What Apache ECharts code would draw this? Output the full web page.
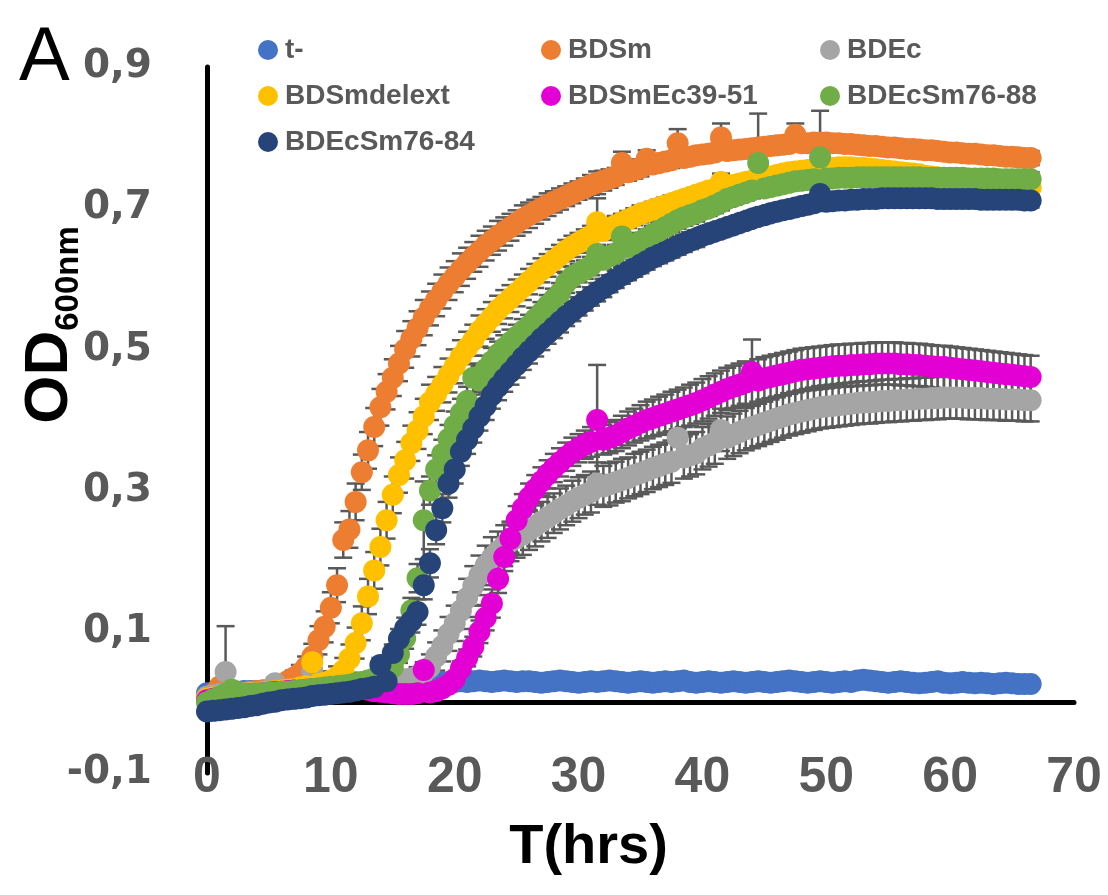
<!DOCTYPE html>
<html>
<head>
<meta charset="utf-8">
<script src="https://cdn.jsdelivr.net/npm/echarts@6/dist/echarts.min.js"></script>
<style>html,body{margin:0;padding:0;background:#fff}#c{width:1108px;height:895px}</style>
</head>
<body>
<div id="c"></div>
<script>
// sampling times (h)
const times = [
0,0.5,1,1.5,2,2.5,3,3.5,4,4.5,
5,5.5,6,6.5,7,7.5,8,8.5,9,9.5,
10,10.5,11,11.5,12,12.5,13,13.5,14,14.5,
15,15.5,16,16.5,17,17.5,18,18.5,19,19.5,
20,20.5,21,21.5,22,22.5,23,23.5,24,24.5,
25,25.5,26,26.5,27,27.5,28,28.5,29,29.5,
30,30.5,31,31.5,32,32.5,33,33.5,34,34.5,
35,35.5,36,36.5,37,37.5,38,38.5,39,39.5,
40,40.5,41,41.5,42,42.5,43,43.5,44,44.5,
45,45.5,46,46.5,47,47.5,48,48.5,49,49.5,
50,50.5,51,51.5,52,52.5,53,53.5,54,54.5,
55,55.5,56,56.5,57,57.5,58,58.5,59,59.5,
60,60.5,61,61.5,62,62.5,63,63.5,64,64.5,
65,65.5,66,66.5];

const seriesNames = ['t-','BDSm','BDEc','BDSmdelext','BDSmEc39-51','BDEcSm76-88','BDEcSm76-84'];
const seriesColors = ['#4472C4','#ED7D31','#A5A5A5','#FFC000','#E300D5','#70AD47','#264478'];
const yTickLabels = ['-0,1','0,1','0,3','0,5','0,7','0,9'];

const od_tminus = [
0.013,0.014,0.014,0.015,0.015,0.015,0.016,0.016,0.016,0.017,
0.017,0.017,0.018,0.018,0.018,0.019,0.019,0.019,0.020,0.020,
0.020,0.021,0.021,0.021,0.022,0.022,0.022,0.023,0.023,0.024,
0.024,0.025,0.025,0.026,0.026,0.027,0.027,0.028,0.028,0.029,
0.029,0.030,0.029,0.030,0.031,0.030,0.029,0.030,0.031,0.030,
0.029,0.030,0.030,0.029,0.028,0.029,0.030,0.031,0.030,0.029,
0.028,0.029,0.030,0.029,0.030,0.031,0.030,0.029,0.028,0.029,
0.030,0.029,0.028,0.029,0.030,0.029,0.030,0.031,0.029,0.028,
0.029,0.030,0.029,0.028,0.029,0.030,0.029,0.028,0.029,0.030,
0.029,0.028,0.029,0.030,0.031,0.030,0.029,0.028,0.029,0.030,
0.029,0.028,0.029,0.030,0.029,0.031,0.032,0.031,0.030,0.029,
0.028,0.029,0.030,0.029,0.028,0.027,0.028,0.029,0.030,0.028,
0.027,0.028,0.029,0.028,0.027,0.028,0.027,0.026,0.027,0.028,
0.027,0.026,0.026,0.026];
const err_tminus = [
0.005,0.005,0.005,0.005,0.005,0.005,0.005,0.005,0.005,0.005,
0.005,0.005,0.005,0.005,0.005,0.005,0.005,0.005,0.005,0.005,
0.005,0.005,0.005,0.005,0.005,0.005,0.005,0.005,0.005,0.005,
0.005,0.005,0.005,0.005,0.005,0.005,0.005,0.005,0.005,0.005,
0.006,0.006,0.006,0.006,0.006,0.006,0.006,0.006,0.006,0.006,
0.006,0.006,0.006,0.006,0.006,0.006,0.006,0.006,0.006,0.006,
0.006,0.006,0.006,0.006,0.006,0.006,0.006,0.006,0.006,0.006,
0.006,0.006,0.006,0.006,0.006,0.006,0.006,0.006,0.006,0.006,
0.006,0.006,0.006,0.006,0.006,0.006,0.006,0.006,0.006,0.006,
0.006,0.006,0.006,0.006,0.006,0.006,0.006,0.006,0.006,0.006,
0.006,0.006,0.006,0.006,0.006,0.006,0.006,0.006,0.006,0.006,
0.006,0.006,0.006,0.006,0.006,0.006,0.006,0.006,0.006,0.006,
0.006,0.006,0.006,0.006,0.006,0.006,0.006,0.006,0.006,0.006,
0.006,0.006,0.006,0.006];

const od_bdsm = [
0.008,0.012,0.022,0.013,0.013,0.014,0.014,0.015,0.016,0.017,
0.018,0.021,0.025,0.030,0.035,0.041,0.050,0.065,0.088,0.107,
0.134,0.166,0.230,0.245,0.284,0.326,0.357,0.390,0.418,0.440,
0.460,0.480,0.500,0.515,0.530,0.545,0.558,0.570,0.582,0.593,
0.603,0.613,0.622,0.631,0.639,0.647,0.654,0.661,0.667,0.673,
0.679,0.685,0.690,0.695,0.700,0.705,0.709,0.713,0.717,0.721,
0.725,0.729,0.733,0.736,0.739,0.742,0.745,0.764,0.751,0.754,
0.757,0.770,0.762,0.764,0.766,0.768,0.792,0.771,0.773,0.775,
0.776,0.777,0.779,0.800,0.781,0.782,0.783,0.784,0.785,0.786,
0.787,0.788,0.789,0.790,0.791,0.804,0.792,0.792,0.793,0.793,
0.793,0.792,0.792,0.791,0.791,0.790,0.789,0.788,0.788,0.787,
0.786,0.786,0.785,0.784,0.784,0.783,0.782,0.782,0.781,0.780,
0.779,0.779,0.778,0.777,0.777,0.776,0.775,0.775,0.774,0.773,
0.773,0.772,0.771,0.771];
const err_bdsm = [
0.005,0.005,0.006,0.005,0.005,0.005,0.005,0.005,0.005,0.005,
0.005,0.006,0.006,0.008,0.010,0.012,0.015,0.018,0.020,0.022,
0.022,0.024,0.025,0.026,0.026,0.025,0.026,0.027,0.026,0.025,
0.026,0.025,0.026,0.025,0.024,0.025,0.024,0.023,0.024,0.023,
0.022,0.023,0.022,0.021,0.022,0.021,0.020,0.021,0.020,0.019,
0.018,0.019,0.018,0.017,0.016,0.016,0.015,0.015,0.014,0.014,
0.013,0.013,0.014,0.016,0.014,0.013,0.012,0.016,0.012,0.012,
0.012,0.012,0.011,0.011,0.011,0.011,0.020,0.011,0.011,0.010,
0.010,0.010,0.010,0.020,0.010,0.010,0.010,0.010,0.010,0.048,
0.010,0.010,0.010,0.010,0.010,0.016,0.010,0.010,0.010,0.045,
0.010,0.010,0.010,0.010,0.010,0.010,0.010,0.010,0.010,0.010,
0.010,0.010,0.010,0.010,0.010,0.010,0.010,0.010,0.010,0.010,
0.010,0.010,0.010,0.010,0.010,0.010,0.010,0.010,0.010,0.010,
0.010,0.010,0.010,0.010];

const od_bdec = [
0.008,0.010,0.012,0.043,0.012,0.013,0.013,0.014,0.014,0.015,
0.015,0.027,0.016,0.017,0.017,0.018,0.019,0.045,0.020,0.021,
0.021,0.022,0.023,0.023,0.024,0.025,0.025,0.026,0.027,0.028,
0.029,0.030,0.032,0.034,0.037,0.042,0.050,0.065,0.080,0.097,
0.112,0.130,0.148,0.165,0.180,0.194,0.205,0.214,0.222,0.228,
0.233,0.238,0.244,0.250,0.256,0.262,0.268,0.274,0.279,0.285,
0.290,0.294,0.298,0.310,0.306,0.309,0.312,0.315,0.318,0.322,
0.325,0.328,0.332,0.335,0.338,0.341,0.375,0.347,0.350,0.353,
0.360,0.364,0.368,0.386,0.375,0.379,0.383,0.387,0.390,0.393,
0.396,0.399,0.402,0.405,0.408,0.410,0.412,0.414,0.416,0.418,
0.419,0.420,0.421,0.422,0.423,0.424,0.425,0.425,0.426,0.427,
0.427,0.428,0.428,0.429,0.429,0.430,0.430,0.431,0.431,0.432,
0.432,0.432,0.432,0.431,0.431,0.431,0.430,0.430,0.430,0.429,
0.429,0.429,0.428,0.428];
const err_bdec = [
0.005,0.005,0.006,0.065,0.006,0.006,0.006,0.006,0.006,0.006,
0.006,0.008,0.006,0.006,0.006,0.006,0.007,0.010,0.007,0.007,
0.007,0.007,0.008,0.008,0.008,0.008,0.009,0.009,0.009,0.010,
0.010,0.010,0.011,0.012,0.013,0.015,0.018,0.020,0.022,0.024,
0.025,0.026,0.027,0.028,0.028,0.028,0.029,0.028,0.029,0.028,
0.028,0.029,0.028,0.029,0.028,0.029,0.028,0.029,0.028,0.029,
0.029,0.028,0.029,0.030,0.029,0.030,0.029,0.030,0.029,0.030,
0.030,0.030,0.030,0.030,0.030,0.030,0.030,0.030,0.030,0.030,
0.030,0.030,0.030,0.030,0.030,0.030,0.030,0.030,0.030,0.030,
0.030,0.030,0.030,0.030,0.030,0.030,0.030,0.030,0.030,0.030,
0.030,0.030,0.030,0.030,0.030,0.030,0.030,0.030,0.030,0.030,
0.030,0.030,0.030,0.030,0.030,0.030,0.030,0.030,0.030,0.030,
0.030,0.030,0.030,0.030,0.030,0.030,0.030,0.030,0.030,0.030,
0.030,0.030,0.030,0.030];

const od_bdsmdelext = [
0.005,0.007,0.008,0.009,0.010,0.011,0.012,0.013,0.013,0.014,
0.015,0.016,0.017,0.018,0.019,0.021,0.023,0.057,0.026,0.028,
0.031,0.036,0.045,0.062,0.084,0.112,0.150,0.187,0.220,0.258,
0.294,0.322,0.343,0.367,0.385,0.405,0.425,0.437,0.450,0.463,
0.476,0.490,0.502,0.513,0.526,0.536,0.546,0.556,0.564,0.572,
0.580,0.588,0.596,0.604,0.612,0.619,0.626,0.633,0.640,0.646,
0.651,0.656,0.661,0.680,0.668,0.672,0.676,0.680,0.684,0.688,
0.692,0.695,0.698,0.701,0.704,0.707,0.710,0.713,0.716,0.719,
0.722,0.725,0.727,0.737,0.731,0.733,0.735,0.737,0.739,0.741,
0.743,0.745,0.747,0.749,0.751,0.752,0.753,0.754,0.755,0.756,
0.757,0.757,0.758,0.758,0.758,0.757,0.757,0.756,0.755,0.754,
0.753,0.752,0.751,0.750,0.749,0.748,0.746,0.745,0.744,0.743,
0.741,0.740,0.739,0.738,0.736,0.735,0.734,0.733,0.732,0.731,
0.730,0.730,0.729,0.729];
const err_bdsmdelext = [
0.005,0.005,0.005,0.005,0.005,0.005,0.005,0.005,0.005,0.005,
0.005,0.005,0.005,0.006,0.006,0.007,0.008,0.010,0.010,0.012,
0.013,0.015,0.018,0.020,0.022,0.024,0.025,0.026,0.026,0.026,
0.026,0.025,0.026,0.025,0.026,0.025,0.025,0.024,0.025,0.024,
0.024,0.023,0.023,0.022,0.022,0.021,0.021,0.020,0.020,0.019,
0.019,0.018,0.018,0.017,0.017,0.016,0.016,0.015,0.015,0.015,
0.014,0.014,0.014,0.034,0.013,0.013,0.013,0.012,0.012,0.012,
0.012,0.011,0.011,0.011,0.011,0.011,0.010,0.010,0.010,0.010,
0.010,0.010,0.010,0.012,0.010,0.010,0.010,0.010,0.010,0.010,
0.010,0.010,0.010,0.010,0.010,0.010,0.010,0.010,0.010,0.010,
0.010,0.010,0.010,0.010,0.010,0.010,0.010,0.010,0.010,0.010,
0.010,0.010,0.010,0.010,0.010,0.010,0.010,0.010,0.010,0.010,
0.010,0.010,0.010,0.010,0.010,0.010,0.010,0.010,0.010,0.010,
0.010,0.010,0.010,0.010];

const od_bdsmec3951 = [
0.003,0.005,0.007,0.008,0.009,0.010,0.011,0.012,0.012,0.013,
0.014,0.015,0.015,0.016,0.017,0.017,0.018,0.019,0.019,0.020,
0.021,0.022,0.022,0.023,0.022,0.020,0.018,0.016,0.015,0.014,
0.013,0.012,0.012,0.012,0.013,0.046,0.014,0.016,0.020,0.025,
0.033,0.048,0.063,0.079,0.100,0.120,0.140,0.175,0.206,0.232,
0.258,0.275,0.290,0.302,0.313,0.323,0.332,0.340,0.348,0.355,
0.360,0.365,0.369,0.400,0.372,0.375,0.378,0.383,0.388,0.392,
0.396,0.400,0.403,0.406,0.409,0.412,0.415,0.418,0.421,0.424,
0.428,0.432,0.436,0.440,0.444,0.447,0.450,0.453,0.468,0.456,
0.459,0.461,0.463,0.465,0.467,0.469,0.471,0.472,0.473,0.474,
0.475,0.476,0.477,0.477,0.478,0.478,0.479,0.479,0.480,0.480,
0.480,0.480,0.479,0.479,0.478,0.478,0.477,0.476,0.475,0.475,
0.474,0.473,0.472,0.471,0.470,0.469,0.468,0.467,0.466,0.465,
0.464,0.463,0.462,0.461];
const err_bdsmec3951 = [
0.005,0.005,0.005,0.005,0.005,0.005,0.005,0.005,0.005,0.005,
0.005,0.005,0.005,0.005,0.005,0.005,0.005,0.005,0.005,0.005,
0.005,0.005,0.005,0.005,0.005,0.005,0.005,0.005,0.005,0.005,
0.005,0.005,0.005,0.005,0.005,0.008,0.005,0.005,0.006,0.007,
0.008,0.010,0.012,0.014,0.016,0.018,0.020,0.020,0.020,0.020,
0.020,0.020,0.020,0.020,0.020,0.020,0.020,0.020,0.020,0.020,
0.020,0.020,0.021,0.078,0.021,0.022,0.022,0.023,0.024,0.024,
0.025,0.026,0.026,0.027,0.027,0.028,0.028,0.028,0.029,0.029,
0.030,0.030,0.030,0.030,0.030,0.030,0.030,0.030,0.046,0.030,
0.030,0.030,0.030,0.030,0.030,0.030,0.030,0.030,0.030,0.030,
0.030,0.030,0.030,0.030,0.030,0.030,0.030,0.030,0.030,0.030,
0.030,0.030,0.030,0.030,0.030,0.030,0.030,0.030,0.030,0.030,
0.030,0.030,0.030,0.030,0.030,0.030,0.030,0.030,0.030,0.030,
0.030,0.030,0.030,0.030];

const od_bdecsm7688 = [
0.000,0.004,0.008,0.012,0.018,0.014,0.012,0.012,0.013,0.013,
0.014,0.014,0.015,0.015,0.016,0.017,0.018,0.019,0.020,0.021,
0.022,0.023,0.024,0.025,0.027,0.029,0.031,0.034,0.038,0.043,
0.050,0.068,0.091,0.130,0.176,0.258,0.300,0.330,0.352,0.373,
0.392,0.410,0.427,0.460,0.456,0.472,0.483,0.493,0.502,0.510,
0.518,0.526,0.533,0.543,0.552,0.562,0.571,0.580,0.594,0.603,
0.608,0.613,0.618,0.635,0.627,0.632,0.636,0.660,0.645,0.649,
0.653,0.658,0.663,0.668,0.673,0.678,0.683,0.687,0.690,0.693,
0.697,0.700,0.704,0.708,0.713,0.716,0.719,0.722,0.725,0.764,
0.728,0.730,0.732,0.734,0.736,0.738,0.739,0.740,0.741,0.772,
0.742,0.742,0.743,0.743,0.743,0.744,0.744,0.744,0.744,0.744,
0.744,0.744,0.744,0.744,0.744,0.744,0.743,0.743,0.743,0.743,
0.743,0.743,0.743,0.742,0.742,0.742,0.742,0.742,0.741,0.741,
0.741,0.741,0.741,0.741];
const err_bdecsm7688 = [
0.005,0.005,0.005,0.005,0.005,0.005,0.005,0.005,0.005,0.005,
0.005,0.005,0.005,0.005,0.005,0.005,0.006,0.006,0.006,0.006,
0.006,0.006,0.007,0.007,0.007,0.007,0.008,0.008,0.008,0.009,
0.010,0.012,0.015,0.018,0.020,0.055,0.020,0.020,0.020,0.020,
0.020,0.020,0.020,0.020,0.020,0.019,0.019,0.018,0.018,0.018,
0.017,0.017,0.016,0.016,0.015,0.015,0.015,0.014,0.014,0.014,
0.013,0.013,0.013,0.013,0.013,0.012,0.012,0.012,0.012,0.012,
0.012,0.012,0.012,0.012,0.012,0.012,0.012,0.012,0.012,0.012,
0.011,0.011,0.011,0.011,0.011,0.011,0.011,0.011,0.011,0.015,
0.011,0.011,0.011,0.011,0.011,0.011,0.011,0.011,0.011,0.012,
0.010,0.010,0.010,0.010,0.010,0.010,0.010,0.010,0.010,0.010,
0.010,0.010,0.010,0.010,0.010,0.010,0.010,0.010,0.010,0.010,
0.010,0.010,0.010,0.010,0.010,0.010,0.010,0.010,0.010,0.010,
0.010,0.010,0.010,0.010];

const od_bdecsm7684 = [
-0.013,-0.012,-0.011,-0.010,-0.009,-0.008,-0.007,-0.005,-0.004,-0.002,
0.000,0.001,0.003,0.004,0.005,0.006,0.007,0.009,0.010,0.011,
0.012,0.013,0.014,0.015,0.017,0.019,0.020,0.022,0.053,0.030,
0.070,0.090,0.105,0.115,0.128,0.166,0.197,0.244,0.275,0.310,
0.330,0.355,0.372,0.388,0.405,0.420,0.435,0.447,0.458,0.468,
0.478,0.488,0.497,0.506,0.515,0.523,0.531,0.539,0.547,0.554,
0.561,0.568,0.575,0.581,0.587,0.593,0.599,0.605,0.610,0.615,
0.620,0.625,0.630,0.634,0.638,0.642,0.646,0.650,0.654,0.657,
0.661,0.664,0.667,0.670,0.673,0.676,0.679,0.682,0.685,0.688,
0.690,0.693,0.695,0.697,0.699,0.701,0.703,0.705,0.707,0.720,
0.709,0.710,0.711,0.711,0.712,0.712,0.713,0.713,0.713,0.714,
0.714,0.714,0.714,0.714,0.714,0.714,0.714,0.714,0.713,0.713,
0.713,0.713,0.713,0.713,0.713,0.712,0.712,0.712,0.712,0.712,
0.712,0.712,0.711,0.711];
const err_bdecsm7684 = [
0.005,0.005,0.005,0.005,0.005,0.005,0.005,0.005,0.005,0.005,
0.005,0.005,0.005,0.005,0.005,0.005,0.005,0.005,0.005,0.005,
0.005,0.005,0.006,0.006,0.006,0.007,0.007,0.008,0.010,0.010,
0.012,0.014,0.015,0.016,0.018,0.020,0.020,0.020,0.020,0.020,
0.020,0.020,0.020,0.020,0.020,0.020,0.019,0.019,0.018,0.018,
0.018,0.017,0.017,0.016,0.016,0.015,0.015,0.015,0.014,0.014,
0.013,0.013,0.013,0.013,0.013,0.012,0.012,0.012,0.012,0.012,
0.012,0.012,0.012,0.012,0.012,0.012,0.012,0.012,0.012,0.012,
0.011,0.011,0.011,0.011,0.011,0.011,0.011,0.011,0.011,0.011,
0.011,0.011,0.011,0.011,0.011,0.011,0.011,0.011,0.011,0.012,
0.010,0.010,0.010,0.010,0.010,0.010,0.010,0.010,0.010,0.010,
0.010,0.010,0.010,0.010,0.010,0.010,0.010,0.010,0.010,0.010,
0.010,0.010,0.010,0.010,0.010,0.010,0.010,0.010,0.010,0.010,
0.010,0.010,0.010,0.010];

const seriesValues = [od_tminus, od_bdsm, od_bdec, od_bdsmdelext, od_bdsmec3951, od_bdecsm7688, od_bdecsm7684];
const seriesErrors = [err_tminus, err_bdsm, err_bdec, err_bdsmdelext, err_bdsmec3951, err_bdecsm7688, err_bdecsm7684];

seriesValues.forEach((a, k) => {
  if (a.length !== times.length || seriesErrors[k].length !== times.length)
    throw new Error('length mismatch ' + seriesNames[k] + ' ' + a.length + ' ' + seriesErrors[k].length);
});

const FONT = 'Liberation Sans';
const chart = echarts.init(document.getElementById('c'), null, {renderer: 'canvas'});

function errRender(params, api) {
  const t = api.value(0), v = api.value(1), e = api.value(2);
  const p1 = api.coord([t, v + e]);
  const p2 = api.coord([t, v - e]);
  const hw = 9;
  const st = {stroke: '#595959', lineWidth: 2.5};
  return {
    type: 'group',
    children: [
      {type: 'line', shape: {x1: p1[0], y1: p1[1], x2: p2[0], y2: p2[1]}, style: st},
      {type: 'line', shape: {x1: p1[0] - hw, y1: p1[1], x2: p1[0] + hw, y2: p1[1]}, style: st},
      {type: 'line', shape: {x1: p2[0] - hw, y1: p2[1], x2: p2[0] + hw, y2: p2[1]}, style: st}
    ]
  };
}

const series = [];
seriesNames.forEach((name, k) => {
  series.push({
    type: 'custom',
    name: name + ' err',
    renderItem: errRender,
    data: times.map((t, i) => [t, seriesValues[k][i], seriesErrors[k][i]]),
    z: 2,
    silent: true,
    animation: false
  });
});
seriesNames.forEach((name, k) => {
  series.push({
    type: 'scatter',
    name: name,
    data: times.map((t, i) => [t, seriesValues[k][i]]),
    symbol: 'circle',
    symbolSize: 22,
    itemStyle: {color: seriesColors[k], opacity: 1},
    emphasis: {disabled: true},
    z: 3 + k,
    animation: false
  });
});

const legendCommon = {
  orient: 'vertical',
  top: 30,
  icon: 'circle',
  itemWidth: 24,
  itemHeight: 20,
  itemGap: 16,
  selectedMode: false,
  textStyle: {fontFamily: FONT, fontWeight: 'bold', fontSize: 28, color: '#595959', lineHeight: 30}
};

chart.setOption({
  animation: false,
  color: seriesColors,
  title: {
    text: 'A', left: 14, top: 16,
    textStyle: {fontFamily: FONT, fontWeight: 'normal', fontSize: 76, color: '#000'}
  },
  legend: [
    Object.assign({left: 253, data: [seriesNames[0], seriesNames[3], seriesNames[6]]}, legendCommon),
    Object.assign({left: 536, data: [seriesNames[1], seriesNames[4]]}, legendCommon),
    Object.assign({left: 815, data: [seriesNames[2], seriesNames[5]]}, legendCommon)
  ],
  grid: {left: 207, right: 34, top: 67, bottom: 122, containLabel: false, outerBoundsMode: 'none'},
  xAxis: {
    type: 'value', min: 0, max: 70, interval: 10,
    axisLine: {show: true, onZero: true, lineStyle: {color: '#000', width: 5}},
    axisTick: {show: false},
    splitLine: {show: false},
    axisLabel: {margin: 5, verticalAlign: 'middle', fontFamily: FONT, fontWeight: 'bold', fontSize: 50, color: '#595959'},
    name: 'T(hrs)', nameLocation: 'middle', nameGap: 75, nameMoveOverlap: false,
    nameTextStyle: {fontFamily: FONT, fontWeight: 'bold', fontSize: 56, color: '#000', verticalAlign: 'middle', padding: [0, 104, 0, 0]}
  },
  yAxis: {
    type: 'value', min: -0.1, max: 0.9, interval: 0.1,
    axisLine: {show: true, onZero: false, lineStyle: {color: '#000', width: 5}},
    axisTick: {show: false},
    splitLine: {show: false},
    axisLabel: {
      margin: 55, fontFamily: 'DejaVu Sans', fontWeight: 'bold', fontSize: 39, color: '#595959',
      formatter: function (v) {
        const s = v.toFixed(1).replace('.', ',');
        return yTickLabels.indexOf(s) >= 0 ? s : '';
      }
    },
    name: '{a|OD}{b|600nm}', nameLocation: 'middle', nameRotate: 90, nameGap: 122, nameMoveOverlap: false,
    nameTextStyle: {
      padding: [0, 0, 0, 190],
      rich: {
        a: {fontFamily: FONT, fontWeight: 'bold', fontSize: 62, color: '#000', lineHeight: 70},
        b: {fontFamily: FONT, fontWeight: 'bold', fontSize: 33, color: '#000', lineHeight: 30, verticalAlign: 'bottom'}
      }
    }
  },
  series: series
});
</script>
</body>
</html>
